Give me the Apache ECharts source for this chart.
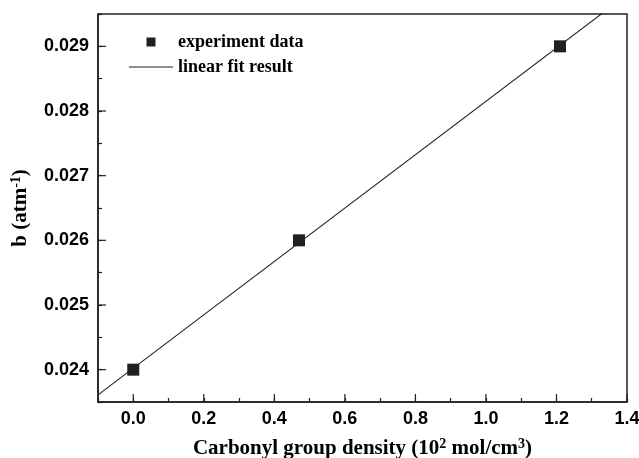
<!DOCTYPE html>
<html>
<head>
<meta charset="utf-8">
<script src="https://cdn.jsdelivr.net/npm/echarts@6/dist/echarts.min.js"></script>
<style>
html, body { margin: 0; padding: 0; background: #fff; }
#main { width: 639px; height: 458px; }
</style>
</head>
<body>
<div id="main"></div>
<script>
// measured points
const densityX = [0, 0.47, 1.21];
const bValues = [0.024, 0.026, 0.029];
// fit line end points
const fitX = [-0.1, 1.4];
const fitY = [0.02361, 0.02980];

const ink = '#231f20';
const serif = '"Liberation Serif", "Times New Roman", serif';
const sans = '"Liberation Sans", Arial, sans-serif';

const myChart = echarts.init(document.getElementById('main'));

const option = {
	animation: false,
	backgroundColor: '#fff',
	grid: { left: 98, top: 14, right: 12, bottom: 56, containLabel: false, outerBoundsMode: 'none' },
	legend: {
		orient: 'vertical',
		left: 124,
		top: 28,
		itemWidth: 44,
		itemHeight: 9,
		itemGap: 7,
		symbolKeepAspect: true,
		textStyle: { fontFamily: serif, fontWeight: 'bold', fontSize: 18, color: '#000' },
		data: [
			{ name: 'experiment data', icon: 'path://M0,0H1V1H0Z', itemStyle: { color: ink } },
			{ name: 'linear fit result', icon: 'path://M0,0H44V1.1H0Z', itemStyle: { color: ink } }
		]
	},
	xAxis: {
		type: 'value',
		min: -0.1,
		max: 1.4,
		interval: 0.1,
		name: 'Carbonyl group density (10{s|2} mol/cm{s|3})',
		nameLocation: 'middle',
		nameGap: 35,
		nameTextStyle: {
			fontFamily: serif, fontWeight: 'bold', fontSize: 21, color: '#000',
			rich: { s: { fontFamily: serif, fontWeight: 'bold', fontSize: 14, verticalAlign: 'top', padding: [0, 0, 9, 0] } }
		},
		axisLine: { onZero: false, lineStyle: { color: ink, width: 1.5 } },
		axisTick: { inside: true, length: 4, lineStyle: { color: ink, width: 1.2 } },
		splitLine: { show: false },
		axisLabel: {
			margin: 8,
			fontFamily: sans, fontWeight: 'bold', fontSize: 18, color: '#000',
			formatter: function (v) {
				const r = Math.round(v * 10);
				if (r % 2 !== 0) return '';
				return (r / 10).toFixed(1);
			}
		}
	},
	yAxis: {
		type: 'value',
		min: 0.0235,
		max: 0.0295,
		interval: 0.0005,
		name: 'b (atm{s|-1})',
		nameLocation: 'middle',
		nameGap: 66,
		nameTextStyle: {
			fontFamily: serif, fontWeight: 'bold', fontSize: 21, color: '#000',
			rich: { s: { fontFamily: serif, fontWeight: 'bold', fontSize: 14, verticalAlign: 'top', padding: [0, 0, 9, 0] } }
		},
		axisLine: { onZero: false, lineStyle: { color: ink, width: 1.5 } },
		axisTick: { inside: true, length: 4, lineStyle: { color: ink, width: 1.2 } },
		splitLine: { show: false },
		axisLabel: {
			margin: 9,
			fontFamily: sans, fontWeight: 'bold', fontSize: 18, color: '#000',
			formatter: function (v) {
				const r = Math.round(v * 10000);
				if (r % 10 !== 0) return '';
				return v.toFixed(3);
			}
		}
	},
	series: [
		{
			name: 'experiment data',
			type: 'scatter',
			symbol: 'rect',
			symbolSize: 12,
			itemStyle: { color: ink, opacity: 1 },
			data: densityX.map((x, i) => [x, bValues[i]]),
			z: 3
		},
		{
			name: 'linear fit result',
			type: 'line',
			symbol: 'none',
			clip: true,
			lineStyle: { color: ink, width: 1.1 },
			itemStyle: { color: ink },
			data: fitX.map((x, i) => [x, fitY[i]]),
			z: 2
		}
	]
};

myChart.setOption(option);

// longer ticks at labelled values, plus frame on top/right
const gridRect = myChart.getModel().getComponent('grid').coordinateSystem.getRect();
const majorX = [0, 0.2, 0.4, 0.6, 0.8, 1.0, 1.2, 1.4];
const majorY = [0.024, 0.025, 0.026, 0.027, 0.028, 0.029];
const graphics = [{
	type: 'rect',
	shape: { x: gridRect.x, y: gridRect.y, width: gridRect.width, height: gridRect.height },
	style: { fill: null, stroke: ink, lineWidth: 1.5 },
	silent: true
}];
majorX.forEach(function (v) {
	const px = myChart.convertToPixel({ xAxisIndex: 0 }, v);
	graphics.push({ type: 'line', shape: { x1: px, y1: gridRect.y + gridRect.height, x2: px, y2: gridRect.y + gridRect.height - 8 }, style: { stroke: ink, lineWidth: 1.2 }, silent: true });
});
majorY.forEach(function (v) {
	const py = myChart.convertToPixel({ yAxisIndex: 0 }, v);
	graphics.push({ type: 'line', shape: { x1: gridRect.x, y1: py, x2: gridRect.x + 8, y2: py }, style: { stroke: ink, lineWidth: 1.2 }, silent: true });
});
myChart.setOption({ graphic: graphics });
</script>
</body>
</html>
